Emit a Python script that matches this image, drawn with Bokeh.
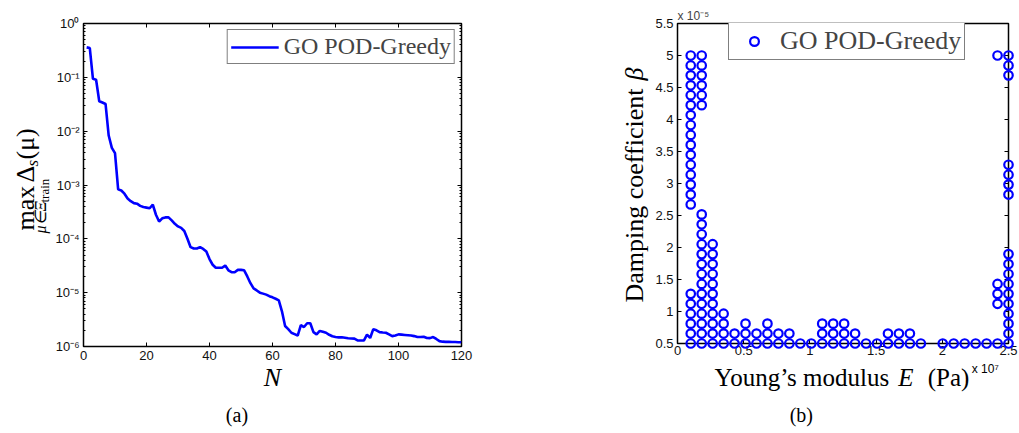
import math
from bokeh.plotting import figure
from bokeh.layouts import row, column
from bokeh.core.properties import value
from bokeh.models import (Range1d, FixedTicker, CustomJSTickFormatter, NumeralTickFormatter,
                          LinearAxis, LogAxis, Legend, LegendItem)
from bokeh.embed import file_html
from bokeh.resources import INLINE

# ---------------- (a) max error indicator over the training set vs. N ----------------
N = list(range(1, 121))
max_delta = [
    0.36, 0.35, 0.094, 0.090, 0.036, 0.034, 0.032, 0.0083, 0.0049, 0.0039,
    8.3e-4, 7.9e-4, 6.9e-4, 5.6e-4, 5.0e-4, 4.6e-4, 4.5e-4, 4.1e-4, 3.9e-4, 3.8e-4,
    3.7e-4, 4.3e-4, 2.8e-4, 2.1e-4, 2.4e-4, 2.5e-4, 2.5e-4, 2.2e-4, 1.9e-4, 1.7e-4,
    1.6e-4, 1.4e-4, 1.0e-4, 7.0e-5, 6.6e-5, 6.6e-5, 7.0e-5, 6.5e-5, 5.8e-5, 4.2e-5,
    3.3e-5, 2.9e-5, 2.9e-5, 2.9e-5, 3.2e-5, 2.6e-5, 2.4e-5, 2.4e-5, 2.65e-5, 2.65e-5,
    2.6e-5, 2.0e-5, 1.5e-5, 1.2e-5, 1.1e-5, 1.0e-5, 9.6e-6, 9.2e-6, 8.6e-6, 8.2e-6,
    7.7e-6, 7.2e-6, 4.5e-6, 2.4e-6, 2.1e-6, 1.8e-6, 1.7e-6, 1.6e-6, 2.5e-6, 2.3e-6,
    2.7e-6, 2.7e-6, 1.85e-6, 1.68e-6, 1.95e-6, 1.88e-6, 1.8e-6, 1.65e-6, 1.55e-6, 1.5e-6,
    1.48e-6, 1.48e-6, 1.45e-6, 1.42e-6, 1.41e-6, 1.40e-6, 1.30e-6, 1.29e-6, 1.29e-6, 1.66e-6,
    1.44e-6, 2.1e-6, 2.0e-6, 1.85e-6, 1.82e-6, 1.8e-6, 1.68e-6, 1.56e-6, 1.6e-6, 1.68e-6,
    1.66e-6, 1.64e-6, 1.62e-6, 1.6e-6, 1.56e-6, 1.5e-6, 1.5e-6, 1.52e-6, 1.44e-6, 1.43e-6,
    1.5e-6, 1.38e-6, 1.26e-6, 1.23e-6, 1.22e-6, 1.22e-6, 1.21e-6, 1.21e-6, 1.20e-6, 1.20e-6,
]
decades = [1e-6, 1e-5, 1e-4, 1e-3, 1e-2, 1e-1, 1.0]
n_ticks = [0, 20, 40, 60, 80, 100, 120]

# ---------------- (b) parameters picked by the greedy algorithm ----------------
# training grid: Young's modulus (x 1e7 Pa) and damping coefficient (x 1e-5)
E_grid = [0.1, 0.1828, 0.2655, 0.3483, 0.4310, 0.5138, 0.5966, 0.6793, 0.7621, 0.8448,
          0.9276, 1.0103, 1.0931, 1.1759, 1.2586, 1.3414, 1.4241, 1.5069, 1.5897, 1.6724,
          1.7552, 1.8379, 1.9207, 2.0034, 2.0862, 2.1690, 2.2517, 2.3345, 2.4172, 2.5]
beta_grid = [0.5, 0.6552, 0.8103, 0.9655, 1.1207, 1.2759, 1.4310, 1.5862, 1.7414, 1.8966,
             2.0517, 2.2069, 2.3621, 2.5172, 2.6724, 2.8276, 2.9828, 3.1379, 3.2931, 3.4483,
             3.6034, 3.7586, 3.9138, 4.0690, 4.2241, 4.3793, 4.5345, 4.6897, 4.8448, 5.0]
# E column index -> damping indices of the selected snapshots
selected = {
    0: [0, 1, 2, 3, 4, 5] + list(range(14, 30)),
    1: list(range(0, 14)) + list(range(24, 30)),
    2: list(range(0, 11)),
    3: [0, 1, 2, 3], 4: [0, 1], 5: [0, 1, 2], 6: [0, 1], 7: [0, 1, 2], 8: [0, 1],
    9: [0, 1], 10: [0], 11: [0], 12: [0, 1, 2], 13: [0, 1, 2], 14: [0, 1, 2],
    15: [0, 1], 16: [0], 17: [0], 18: [0, 1], 19: [0, 1], 20: [0, 1], 21: [0],
    23: [0], 24: [0], 25: [0], 26: [0], 27: [0],
    28: [0, 4, 5, 6, 29],
    29: list(range(0, 10)) + [15, 16, 17, 18, 27, 28, 29],
}
E_sel, beta_sel = [], []
for col, rows in selected.items():
    for r in rows:
        E_sel.append(E_grid[col])
        beta_sel.append(beta_grid[r])
E_ticks = [0, 0.5, 1, 1.5, 2, 2.5]
beta_ticks = [0.5, 1, 1.5, 2, 2.5, 3, 3.5, 4, 4.5, 5, 5.5]

BLUE = "#0000ff"
SERIF = "Liberation Serif"
SANS = "Liberation Sans"
UP = math.pi / 2


def style_axis(ax, labels=True, standoff=4):
    ax.axis_line_color = None
    ax.major_tick_in = 4
    ax.major_tick_out = 0
    ax.minor_tick_in = 2
    ax.minor_tick_out = 0
    ax.major_tick_line_color = "black"
    ax.minor_tick_line_color = "black"
    ax.major_label_standoff = standoff
    ax.major_label_text_font = SANS
    ax.major_label_text_font_size = "13px"
    ax.major_label_text_color = "#111111"
    if not labels:
        ax.formatter = CustomJSTickFormatter(code="return ''")
        ax.major_label_standoff = 0


def frame_style(p):
    p.outline_line_color = "black"
    p.outline_line_width = 1.5
    p.xgrid.visible = False
    p.ygrid.visible = False
    p.background_fill_color = "white"
    p.border_fill_color = "white"


def text_strip(x0, x1, y0, y1):
    """A bare canvas covering page pixels [x0, x1] x [y0, y1] for axis titles."""
    s = figure(width=x1 - x0, height=y1 - y0, x_range=Range1d(x0, x1),
               y_range=Range1d(-y1, -y0), min_border=0, output_backend="svg",
               toolbar_location=None, x_axis_location=None, y_axis_location=None)
    s.outline_line_color = None
    s.grid.visible = False
    s.background_fill_color = "white"
    s.border_fill_color = "white"
    return s


def put(s, text, x, y, size, angle=0.0, style="normal", align="left", font=SERIF):
    """Draw text whose baseline passes through page pixel (x, y)."""
    shift = 0.3 * size          # anchor sits this far above the baseline
    if angle:
        x = x - shift
    else:
        y = y - shift
    s.text(x=[x], y=[-y], text=[text], angle=angle, text_font=value(font),
           text_font_size=f"{size}px", text_font_style=style, text_align=align,
           text_baseline="alphabetic", text_color="black")


# ---------------- left panel ----------------
p1 = figure(width=468, height=398, x_range=Range1d(0, 120), y_range=Range1d(1e-6, 1.0),
            y_axis_type="log", output_backend="svg", toolbar_location=None,
            min_border_left=30, min_border_right=59, min_border_top=23, min_border_bottom=52)
frame_style(p1)

x_tick = FixedTicker(ticks=n_ticks)
minor_log = [m * d for d in decades[:-1] for m in range(2, 10)]
y_tick = FixedTicker(ticks=decades, minor_ticks=minor_log)
sup_code = """
const e = Math.round(Math.log10(tick));
const sup = {'-':'\u207b','0':'\u2070','1':'\u00b9','2':'\u00b2','3':'\u00b3','4':'\u2074',
             '5':'\u2075','6':'\u2076','7':'\u2077','8':'\u2078','9':'\u2079'};
return '10' + String(e).split('').map(c => sup[c]).join('');
"""
p1.xaxis.ticker = x_tick
p1.yaxis.ticker = y_tick
p1.yaxis.formatter = CustomJSTickFormatter(code=sup_code)
p1.xaxis.formatter = NumeralTickFormatter(format="0")
for ax in p1.xaxis + p1.yaxis:
    style_axis(ax)
p1.xaxis.minor_tick_line_color = None
p1.xaxis.axis_label = "N"
p1.xaxis.axis_label_text_font = SERIF
p1.xaxis.axis_label_text_font_style = "italic"
p1.xaxis.axis_label_text_font_size = "26px"
p1.xaxis.axis_label_text_color = "black"
p1.xaxis.axis_label_standoff = 0

top1 = LinearAxis(ticker=x_tick)
style_axis(top1, labels=False)
top1.minor_tick_line_color = None
p1.add_layout(top1, "above")
right1 = LogAxis(ticker=y_tick)
style_axis(right1, labels=False)
p1.add_layout(right1, "right")

line_r = p1.line(N, max_delta, line_color=BLUE, line_width=2.6)

leg1 = Legend(items=[LegendItem(label="GO POD-Greedy", renderers=[line_r])],
              location="top_right", margin=6, padding=3, spacing=0,
              glyph_width=48, glyph_height=22, label_standoff=5, label_height=22,
              label_text_font=SERIF, label_text_font_size="24px",
              border_line_color="black", border_line_width=1.3,
              background_fill_color="white", background_fill_alpha=1.0)
p1.add_layout(leg1)

# y title: max over mu in Xi_train of Delta_s(mu)
ylab1 = text_strip(0, 52, 0, 433)
put(ylab1, "max", 33, 230, 26, angle=UP)
put(ylab1, "\u0394", 33, 182, 26, angle=UP)
put(ylab1, "s", 37, 166, 17, angle=UP, style="italic")
put(ylab1, "(\u03bc)", 33, 159, 26, angle=UP)
put(ylab1, "\u03bc\u2208\u039e", 45, 233, 16, angle=UP, style="italic")
put(ylab1, "train", 48, 202, 13, angle=UP)

bot1 = text_strip(52, 520, 398, 433)
put(bot1, "(a)", 242, 420, 20, align="center")

# ---------------- right panel ----------------
p2 = figure(width=369, height=360, x_range=Range1d(0, 2.5), y_range=Range1d(0.5, 5.5),
            output_backend="svg", toolbar_location=None,
            min_border_left=27, min_border_right=11, min_border_top=23, min_border_bottom=17)
frame_style(p2)
ex_tick = FixedTicker(ticks=E_ticks)
by_tick = FixedTicker(ticks=beta_ticks)
p2.xaxis.ticker = ex_tick
p2.yaxis.ticker = by_tick
p2.xaxis.formatter = NumeralTickFormatter(format="0.[0]")
p2.yaxis.formatter = NumeralTickFormatter(format="0.[0]")
for ax in p2.xaxis + p2.yaxis:
    style_axis(ax)
    ax.minor_tick_line_color = None
p2.xaxis.major_label_standoff = 2
top2 = LinearAxis(ticker=ex_tick)
style_axis(top2, labels=False)
top2.minor_tick_line_color = None
p2.add_layout(top2, "above")
right2 = LinearAxis(ticker=by_tick)
style_axis(right2, labels=False)
right2.minor_tick_line_color = None
p2.add_layout(right2, "right")

# scale factor of the damping axis
p2.title.text = "x 10\u207b\u2075"
p2.title.align = "left"
p2.title.text_font = SANS
p2.title.text_font_size = "12px"
p2.title.text_font_style = "normal"
p2.title.standoff = 2

sc = p2.scatter(E_sel, beta_sel, marker="circle", size=8.5, fill_color=None,
                line_color=BLUE, line_width=2.2, level="overlay")

leg2 = Legend(items=[LegendItem(label="GO POD-Greedy", renderers=[sc])],
              location=(51, 283), padding=3, spacing=0,
              glyph_width=44, glyph_height=22, label_standoff=4, label_height=22,
              label_text_font=SERIF, label_text_font_size="26px",
              border_line_color="black", border_line_width=1.3,
              background_fill_color="white", background_fill_alpha=1.0)
p2.add_layout(leg2)

ylab2 = text_strip(520, 650, 0, 433)
put(ylab2, "Damping coefficient", 642, 195, 26, angle=UP, align="center")
put(ylab2, "\u03b2", 642, 80, 26, angle=UP, style="italic")

bot2 = text_strip(650, 1019, 360, 433)
put(bot2, "Young\u2019s modulus", 886, 384, 25, align="right")
put(bot2, "E", 896, 384, 25, style="italic")
put(bot2, "(Pa)", 929, 384, 25)
put(bot2, "x 10\u2077", 978, 372, 12, font=SANS)
put(bot2, "(b)", 788, 420, 20, align="center")

layout = row(ylab1, column(p1, bot1), ylab2, column(p2, bot2))
open("out.html", "w").write(file_html(layout, INLINE))
